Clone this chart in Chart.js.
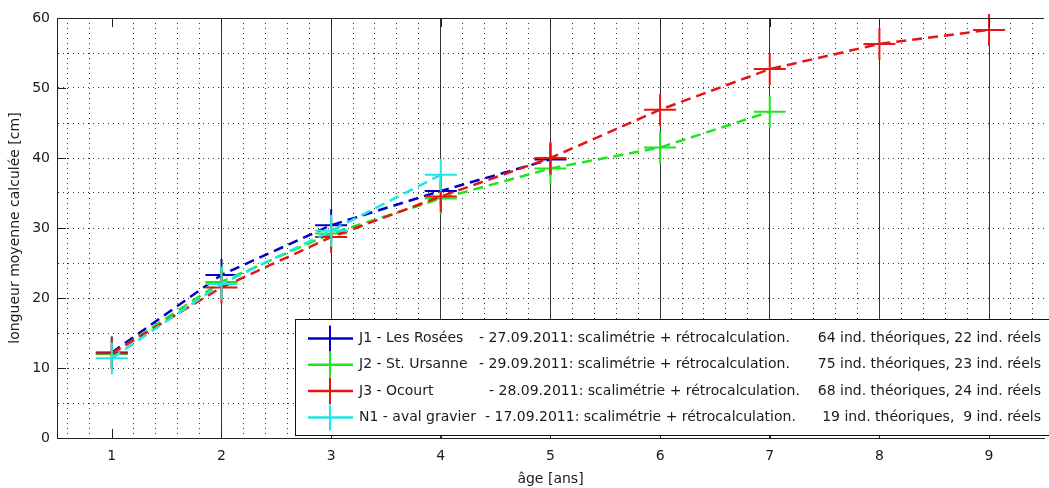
<!DOCTYPE html>
<html><head><meta charset="utf-8">
<script src="https://cdn.jsdelivr.net/npm/chart.js@4/dist/chart.umd.min.js"></script>
<style>
html,body{margin:0;padding:0;background:#fff;overflow:hidden;}
#wrap{position:relative;width:1062px;height:488px;}
</style></head><body>
<div id="wrap"><canvas id="c"></canvas></div>
<script>
// ---- data ----
const ages = [1, 2, 3, 4, 5, 6, 7, 8, 9];
const J1 = [12.2, 23.3, 30.4, 35.3, 39.8];
const J2 = [12.0, 22.3, 29.2, 34.2, 38.5, 41.5, 46.6];
const J3 = [12.1, 21.5, 28.7, 34.5, 40.0, 46.9, 52.7, 56.3, 58.3];
const N1 = [11.4, 22.0, 29.6, 37.6];
const xTickLabels = ['1', '2', '3', '4', '5', '6', '7', '8', '9'];
const yTickLabels = ['0', '10', '20', '30', '40', '50', '60'];
const stationNames = ['J1 - Les Rosées', 'J2 - St. Ursanne', 'J3 - Ocourt', 'N1 - aval gravier'];
const sampleInfo = ['- 27.09.2011: scalimétrie + rétrocalculation.',
                    '- 29.09.2011: scalimétrie + rétrocalculation.',
                    '- 28.09.2011: scalimétrie + rétrocalculation.',
                    '- 17.09.2011: scalimétrie + rétrocalculation.'];
const counts = ['64 ind. théoriques, 22 ind. réels',
                '75 ind. théoriques, 23 ind. réels',
                '68 ind. théoriques, 24 ind. réels',
                '19 ind. théoriques,  9 ind. réels'];
const seriesColors = ['#0000c8', '#1ee61e', '#e61414', '#1ee6e6'];

const FONT = 'DejaVu Sans';
const isInt = v => Math.abs(v - Math.round(v)) < 1e-6;
const toPts = arr => arr.map((v, i) => ({x: ages[i], y: v}));
const seriesData = [J1, J2, J3, N1];

const datasets = seriesData.map((arr, i) => ({
  label: stationNames[i],
  data: toPts(arr),
  borderColor: seriesColors[i],
  backgroundColor: seriesColors[i],
  borderWidth: 2.5,
  borderDash: [10, 6],
  pointStyle: 'cross',
  pointRadius: 16,
  pointHoverRadius: 16,
  pointBorderWidth: 2,
  pointBorderColor: seriesColors[i],
  fill: false,
  tension: 0,
  clip: false,
  order: 4 - i
}));

const decor = {
  id: 'decor',
  afterDatasetsDraw(chart) {
    const {ctx, chartArea: a, scales: {x, y}} = chart;
    ctx.save();
    ctx.strokeStyle = '#222';
    ctx.lineWidth = 1;
    const line = (x1, y1, x2, y2) => { ctx.beginPath(); ctx.moveTo(x1, y1); ctx.lineTo(x2, y2); ctx.stroke(); };
    // top frame
    line(a.left, Math.round(a.top) + 0.5, a.right, Math.round(a.top) + 0.5);
    // inside ticks
    xTickLabels.forEach(t => {
      const px = Math.round(x.getPixelForValue(+t)) + 0.5;
      line(px, a.bottom, px, a.bottom - 9);
      line(px, a.top, px, a.top + 9);
    });
    yTickLabels.forEach(t => {
      const py = Math.round(y.getPixelForValue(+t)) + 0.5;
      line(a.left, py, a.left + 9, py);
    });
    // legend box
    const bx = 295.5, by = 319.5, bw = a.right + 10 - bx, bh = 116;
    ctx.fillStyle = '#fff';
    ctx.fillRect(bx, by, bw, bh);
    ctx.strokeStyle = '#111';
    ctx.strokeRect(bx, by, bw, bh);
    const infoX = [479, 479, 489, 485];
    stationNames.forEach((name, i) => {
      const ry = 338.5 + i * 26.3;
      const c = seriesColors[i];
      ctx.strokeStyle = c;
      ctx.lineWidth = 2.5;
      line(308, ry, 353, ry);
      ctx.lineWidth = 2;
      line(330, ry - 13, 330, ry + 13);
      ctx.fillStyle = '#1a1a1a';
      ctx.font = '14px "' + FONT + '"';
      ctx.textBaseline = 'middle';
      ctx.textAlign = 'left';
      ctx.fillText(name, 359, ry);
      ctx.fillText(sampleInfo[i], infoX[i], ry);
      ctx.textAlign = 'right';
      ctx.fillText(counts[i], 1041, ry);
    });
    ctx.restore();
  }
};

new Chart(document.getElementById('c'), {
  type: 'line',
  data: {datasets},
  plugins: [decor],
  options: {
    animation: false,
    responsive: true,
    maintainAspectRatio: false,
    layout: {padding: {left: 0, top: 17, right: 8, bottom: 0}},
    plugins: {legend: {display: false}, tooltip: {enabled: false}},
    scales: {
      x: {
        type: 'linear',
        min: 0.5, max: 9.501,
        afterFit(s) { s.height = 50; },
        ticks: {
          stepSize: 0.2,
          includeBounds: false,
          autoSkip: false,
          maxRotation: 0,
          padding: 10,
          color: '#1a1a1a',
          font: {family: FONT, size: 14},
          callback: v => isInt(v) && xTickLabels.includes(String(Math.round(v))) ? String(Math.round(v)) : ''
        },
        grid: {
          drawTicks: false,
          lineWidth: 1,
          color: ctx => {
            if (!ctx.tick) return '#222';
            const v = ctx.tick.value;
            if (isInt(v)) return Math.round(v) === 1 ? 'rgba(0,0,0,0)' : '#333';
            return 'rgba(0,0,0,0.8)';
          }
        },
        border: {
          display: true, color: '#222', width: 1,
          dash: ctx => (ctx.tick && !isInt(ctx.tick.value)) ? [1, 4] : []
        },
        title: {
          display: true, text: 'âge [ans]', color: '#1a1a1a',
          font: {family: FONT, size: 14}, padding: {top: 0, bottom: 0}
        }
      },
      y: {
        type: 'linear',
        min: 0, max: 60,
        afterFit(s) { s.width = 57; },
        ticks: {
          stepSize: 5,
          padding: 7,
          color: '#1a1a1a',
          font: {family: FONT, size: 14},
          callback: v => yTickLabels.includes(String(v)) ? String(v) : ''
        },
        grid: {
          drawTicks: false,
          lineWidth: 1,
          color: ctx => {
            if (!ctx.tick) return '#222';
            const v = ctx.tick.value;
            return (v === 0 || v === 60) ? 'rgba(0,0,0,0)' : 'rgba(0,0,0,0.8)';
          }
        },
        border: {
          display: true, color: '#222', width: 1,
          dash: ctx => ctx.tick ? [1, 4] : []
        },
        title: {
          display: true, text: 'longueur moyenne calculée [cm]', color: '#1a1a1a',
          font: {family: FONT, size: 14}, padding: {top: 7, bottom: 0}
        }
      }
    }
  }
});
</script>
</body></html>
